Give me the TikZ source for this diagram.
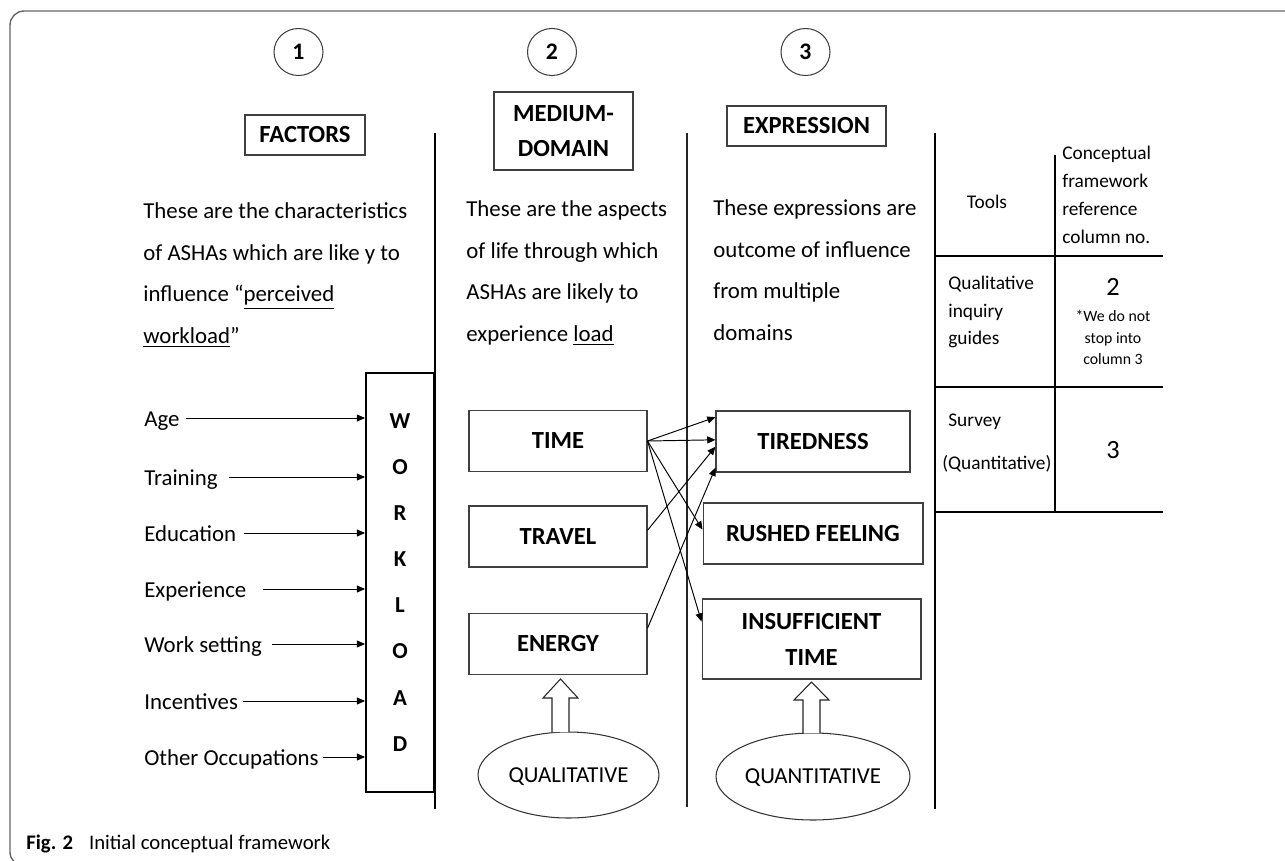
\documentclass[tikz,border=0pt]{standalone}
\usepackage{fontspec}
\setmainfont{Carlito}
\usetikzlibrary{arrows.meta,shapes.geometric}

\tikzset{
  numcirc/.style={draw=black!75, line width=0.6pt, ellipse, minimum width=0.98cm, minimum height=0.94cm, inner sep=0pt, text height=8.6pt, text depth=0pt, font=\bfseries\fontsize{13.5}{16}\selectfont},
  hdbox/.style={draw=black!75, line width=0.6pt, inner sep=0pt, align=center, font=\bfseries\fontsize{14}{20.2}\selectfont},
  dbox/.style={draw=black!75, line width=0.6pt, inner sep=0pt, minimum height=1.22cm, align=center, font=\bfseries\fontsize{14}{20.4}\selectfont},
  para/.style={anchor=west, align=left, inner sep=0pt, font=\fontsize{13}{23.6}\selectfont},
  factor/.style={anchor=west, inner sep=0pt, text height=9.5pt, text depth=0pt, font=\fontsize{13}{15}\selectfont},
  oval/.style={draw=black!80, line width=0.6pt, ellipse, inner sep=0pt, text height=8.4pt, text depth=0pt, font=\fontsize{13}{15}\selectfont},
  tabtxt/.style={inner sep=0pt, font=\fontsize{11}{15.9}\selectfont},
  arr/.style={-{Triangle[length=4.7pt,width=4pt]}, line width=0.55pt},
  hollow/.style={draw=black!85, line width=0.6pt, fill=white},
  thickline/.style={line width=1.1pt},
}

\begin{document}
\begin{tikzpicture}[x=0.02cm, y=-0.02cm]
\useasboundingbox (0,0) rectangle (1285,860);
\clip (0,0) rectangle (1285,860);
\draw[black!60, line width=0.8pt, rounded corners=8pt] (10,866) rectangle (1300,11);

% column numbers and headings
\node[numcirc] (c1) at (298.5,52) {1};
\node[numcirc] (c2) at (552,52) {2};
\node[numcirc] (c3) at (805.5,52) {3};
\node[hdbox, minimum width=2.4cm, minimum height=0.8cm] (factors) at (305,135) {FACTORS};
\node[hdbox, minimum width=2.78cm, minimum height=1.56cm] (medium) at (563.5,131) {MEDIUM-\\DOMAIN};
\node[hdbox, minimum width=3.18cm, minimum height=0.8cm] (expression) at (806.5,126) {EXPRESSION};

% column separators
\draw[thickline] (435,133) -- (435,809);
\draw[black!85, line width=0.6pt] (687,133) -- (687,807);

% descriptions
\node[para] (factxt) at (143,275) {These are the characteristics\\of ASHAs which are like y to\\influence “\underline{perceived}\\\underline{workload}”};
\node[para] (medtxt) at (466,273) {These are the aspects\\of life through which\\ASHAs are likely to\\experience \underline{load}};
\node[para] (exptxt) at (713,270) {These expressions are\\outcome of influence\\from multiple\\domains};

% factors into workload
\node[draw, thickline, minimum width=1.36cm, minimum height=8.38cm, inner sep=0pt, align=center, font=\bfseries\fontsize{13}{26.2}\selectfont] (workload) at (400,582.5) {W\\O\\R\\K\\L\\O\\A\\D};
\node[factor] (age) at (144,418) {Age};
\node[factor] (training) at (144,477) {Training};
\node[factor] (education) at (144,533) {Education};
\node[factor] (experience) at (144,589) {Experience};
\node[factor] (setting) at (144,644) {Work setting};
\node[factor] (incentives) at (144,701) {Incentives};
\node[factor] (occupations) at (144,757) {Other Occupations};
\draw[arr, shorten <=3.4pt] (age.east) -- (age.east -| workload.west);
\draw[arr, shorten <=6.2pt] (training.east) -- (training.east -| workload.west);
\draw[arr, shorten <=4.5pt] (education.east) -- (education.east -| workload.west);
\draw[arr, shorten <=9.1pt] (experience.east) -- (experience.east -| workload.west);
\draw[arr, shorten <=5.7pt] (setting.east) -- (setting.east -| workload.west);
\draw[arr, shorten <=2.8pt] (incentives.east) -- (incentives.east -| workload.west);
\draw[arr, shorten <=2.3pt] (occupations.east) -- (occupations.east -| workload.west);

% domains and expressions
\node[dbox, minimum width=3.56cm] (time) at (558,441) {TIME};
\node[dbox, minimum width=3.56cm] (travel) at (558,536.5) {TRAVEL};
\node[dbox, minimum width=3.56cm] (energy) at (558,644) {ENERGY};
\node[dbox, minimum width=3.88cm] (tiredness) at (813,441.5) {TIREDNESS};
\node[dbox, minimum width=4.4cm] (rushed) at (813,533.5) {RUSHED FEELING};
\node[dbox, minimum width=4.38cm, minimum height=1.6cm] (insufficient) at (811.5,639) {INSUFFICIENT\\TIME};
\draw[arr] (time.east) -- (tiredness.166);
\draw[arr] (time.east) -- (tiredness.179);
\draw[arr] (time.east) -- (rushed.178);
\draw[arr] (time.east) -- (insufficient.171);
\draw[arr] (travel.4) -- (tiredness.183);
\draw[arr] (energy.10) -- (tiredness.195);

% methods
\node[oval, minimum width=3.62cm, minimum height=1.72cm] (qualitative) at (568.5,775) {QUALITATIVE};
\node[oval, minimum width=3.88cm, minimum height=1.74cm] (quantitative) at (813,776.5) {QUANTITATIVE};
\draw[hollow] (552,732) -- (552,698) -- (543,698) -- (560.5,679) -- (578,698) -- (569,698) -- (569,732);
\draw[hollow] (803,733) -- (803,700) -- (794,700) -- (811.5,682) -- (829,700) -- (820,700) -- (820,733);

% tools table
\draw[thickline] (935,133) -- (935,809);
\draw[thickline] (1055,155) -- (1055,512);
\draw[thickline] (935,256) -- (1163,256);
\draw[thickline] (935,387) -- (1163,387);
\draw[thickline] (935,512) -- (1163,512);
\node[tabtxt] (tools) at (987,202) {Tools};
\node[tabtxt, anchor=west, align=left] (refcol) at (1062,195) {Conceptual\\framework\\reference\\column no.};
\node[tabtxt, anchor=west, align=left] (qualtool) at (948,312) {Qualitative\\inquiry\\guides};
\node[inner sep=0pt, font=\fontsize{15}{18}\selectfont] (two) at (1113,287) {2};
\node[inner sep=0pt, align=center, font=\fontsize{9}{12.2}\selectfont] (note) at (1113,337.5) {*We do not\\stop into\\column 3};
\node[tabtxt, anchor=west] (survey) at (948,422) {Survey};
\node[tabtxt, anchor=west] (quanttool) at (942,464) {(Quantitative)};
\node[inner sep=0pt, font=\fontsize{15}{18}\selectfont] (three) at (1113,450) {3};

% caption
\node[anchor=base west, inner sep=0pt, font=\fontsize{11.8}{14}\selectfont] (caption) at (26,849) {\textbf{Fig. 2}\hspace{0.77em}Initial conceptual framework};
\end{tikzpicture}
\end{document}
